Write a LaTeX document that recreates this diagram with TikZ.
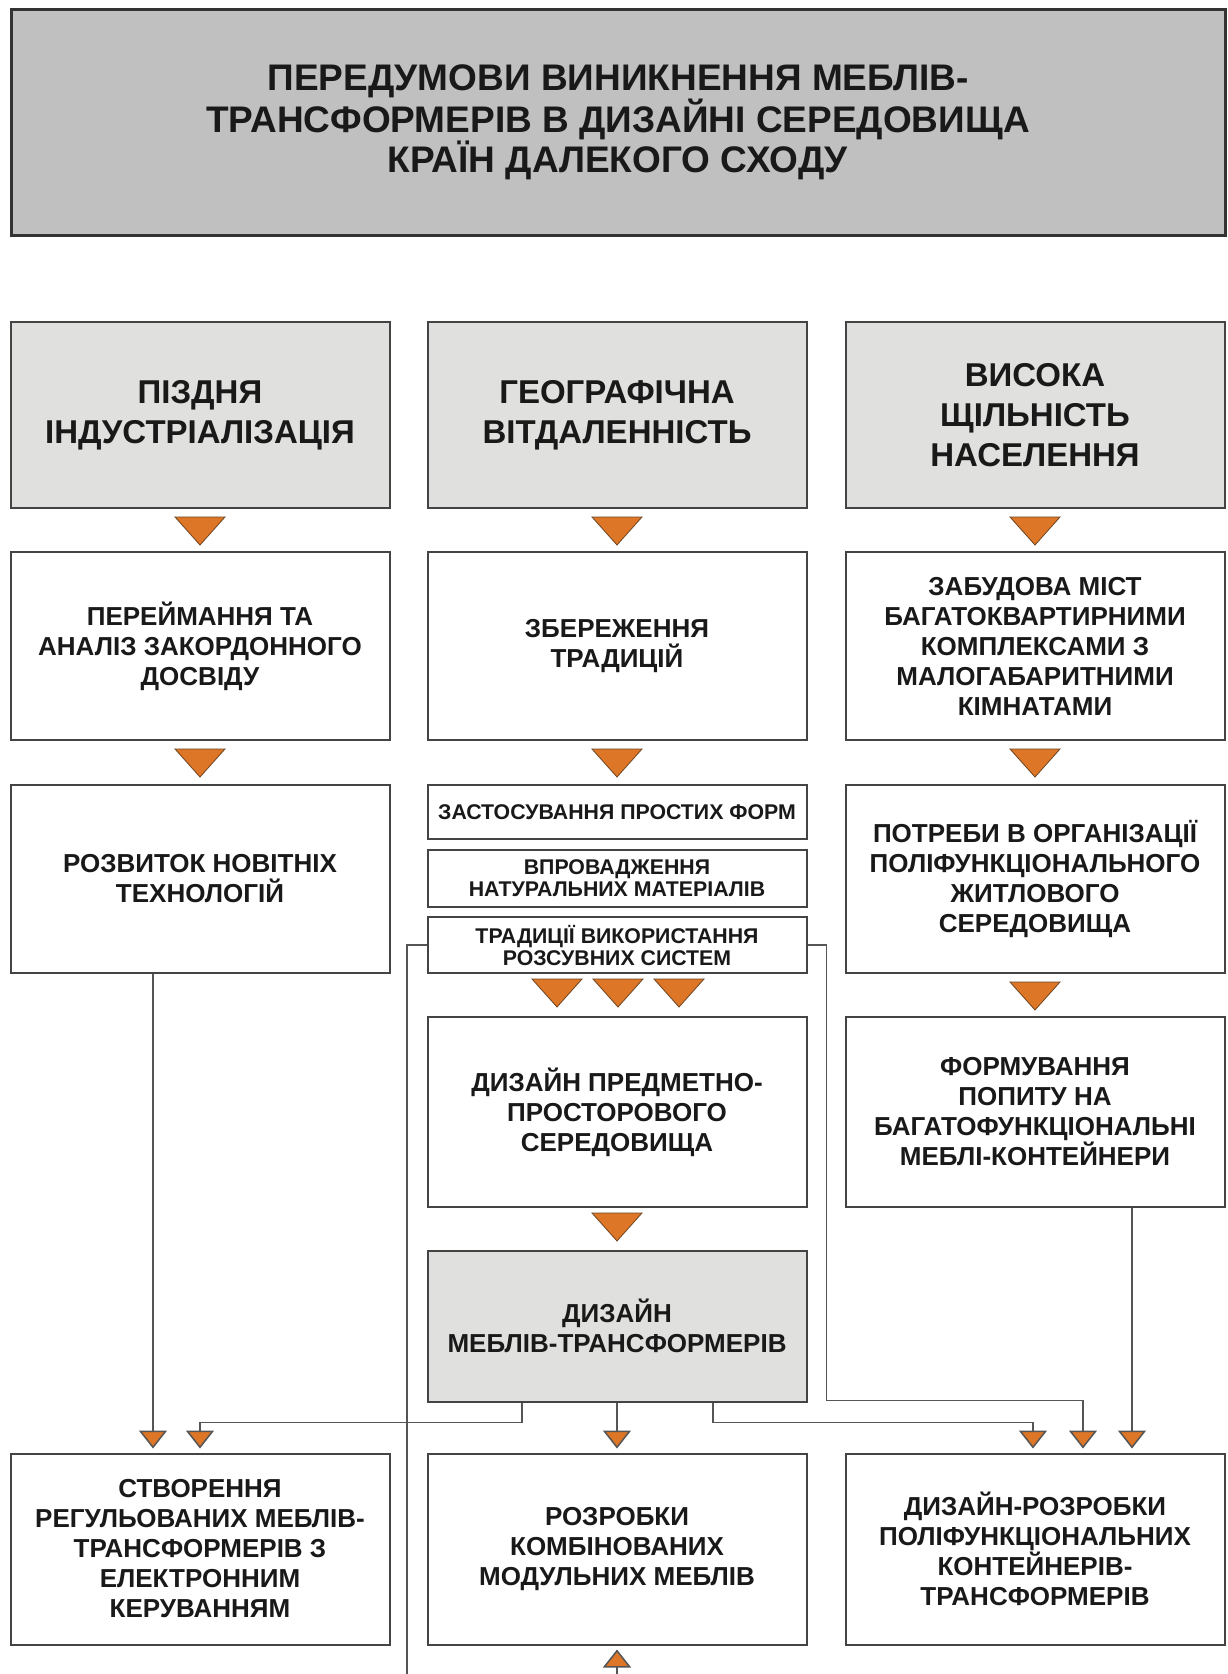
\documentclass[tikz,border=0pt]{standalone}
\usepackage{fontspec}
\setmainfont{Liberation Sans}
\usetikzlibrary{arrows.meta,calc,positioning}
\definecolor{boxline}{RGB}{68,68,68}
\definecolor{linkgray}{RGB}{85,85,85}
\definecolor{headfill}{RGB}{224,224,222}
\definecolor{titlefill}{RGB}{192,192,192}
\definecolor{triorange}{RGB}{221,118,38}
\definecolor{triedge}{RGB}{110,70,35}
\definecolor{txt}{RGB}{25,25,25}

\begin{document}
\begin{tikzpicture}[x=1pt,y=-1pt,
  box/.style={draw=boxline,line width=2pt,fill=white,text=txt,align=center,
    inner sep=0pt,minimum width=379pt,minimum height=188pt,
    font=\bfseries\fontsize{26}{30}\selectfont},
  headbox/.style={box,fill=headfill,minimum height=186pt,
    font=\bfseries\fontsize{33}{40}\selectfont},
  smallbox/.style={box,minimum height=55pt,font=\bfseries\fontsize{21.3}{22}\selectfont},
  wire/.style={draw=linkgray,line width=1.5pt},
  link/.style={wire,shorten >=4pt,-{Triangle[width=28pt,length=18pt,fill=triorange]}},
  tri/.pic={\filldraw[fill=triorange,draw=triedge,line width=0.8pt]
    (-25,0) -- (25,0) -- (0,28) -- cycle;}]
  \fill[white] (0,0) rectangle (1227,1674);
  \useasboundingbox (0,0) rectangle (1227,1674);

  \node[box,fill=titlefill,draw=black!80,line width=3pt,minimum width=1214pt,
        minimum height=226pt,font=\bfseries\fontsize{37}{37.5}\selectfont] (title) at (618,122)
    {ПЕРЕДУМОВИ ВИНИКНЕННЯ МЕБЛІВ-\\ТРАНСФОРМЕРІВ В ДИЗАЙНІ СЕРЕДОВИЩА\\КРАЇН ДАЛЕКОГО СХОДУ};

  \node[headbox] (pre1) at (200,415) {ПІЗДНЯ\\ІНДУСТРІАЛІЗАЦІЯ};
  \node[headbox] (pre2) at (617,415) {ГЕОГРАФІЧНА\\ВІТДАЛЕННІСТЬ};
  \node[headbox] (pre3) at (1035,415) {ВИСОКА\\ЩІЛЬНІСТЬ\\НАСЕЛЕННЯ};

  \node[box] (lead1) at (200,646) {ПЕРЕЙМАННЯ ТА\\АНАЛІЗ ЗАКОРДОННОГО\\ДОСВІДУ};
  \node[box] (lead2) at (617,646) {ЗБЕРЕЖЕННЯ\\ТРАДИЦІЙ};
  \node[box] (lead3) at (1035,646) {ЗАБУДОВА МІСТ\\БАГАТОКВАРТИРНИМИ\\КОМПЛЕКСАМИ З\\МАЛОГАБАРИТНИМИ\\КІМНАТАМИ};

  \node[box] (tech) at (200,879) {РОЗВИТОК НОВІТНІХ\\ТЕХНОЛОГІЙ};
  \node[smallbox,minimum height=54pt] (simple) at (617,812) {ЗАСТОСУВАННЯ ПРОСТИХ ФОРМ};
  \node[smallbox,minimum height=57pt] (natural) at (617,878) {ВПРОВАДЖЕННЯ\\НАТУРАЛЬНИХ МАТЕРІАЛІВ};
  \node[smallbox,minimum height=56pt] (trad) at (617,945) {ТРАДИЦІЇ ВИКОРИСТАННЯ\\РОЗСУВНИХ СИСТЕМ};
  \node[box] (need) at (1035,879) {ПОТРЕБИ В ОРГАНІЗАЦІЇ\\ПОЛІФУНКЦІОНАЛЬНОГО\\ЖИТЛОВОГО\\СЕРЕДОВИЩА};

  \node[box,minimum height=190pt] (space) at (617,1112) {ДИЗАЙН ПРЕДМЕТНО-\\ПРОСТОРОВОГО\\СЕРЕДОВИЩА};
  \node[box,minimum height=190pt] (demand) at (1035,1112) {ФОРМУВАННЯ\\ПОПИТУ НА\\БАГАТОФУНКЦІОНАЛЬНІ\\МЕБЛІ-КОНТЕЙНЕРИ};
  \node[box,fill=headfill,minimum height=151pt] (mebli) at (617,1326) {ДИЗАЙН\\МЕБЛІВ-ТРАНСФОРМЕРІВ};

  \node[box,minimum height=191pt] (res1) at (200,1549) {СТВОРЕННЯ\\РЕГУЛЬОВАНИХ МЕБЛІВ-\\ТРАНСФОРМЕРІВ З\\ЕЛЕКТРОННИМ\\КЕРУВАННЯМ};
  \node[box,minimum height=191pt] (res2) at (617,1549) {РОЗРОБКИ\\КОМБІНОВАНИХ\\МОДУЛЬНИХ МЕБЛІВ};
  \node[box,minimum height=191pt] (res3) at (1035,1549) {ДИЗАЙН-РОЗРОБКИ\\ПОЛІФУНКЦІОНАЛЬНИХ\\КОНТЕЙНЕРІВ-\\ТРАНСФОРМЕРІВ};

  \foreach \a in {pre1,pre2,pre3,lead1,lead2,lead3,need}
    \pic at ($(\a.south)+(0,8)$) {tri};
  \foreach \dx in {-60,1,62}
    \pic at ($(trad.south)+(\dx,5)$) {tri};
  \pic at ($(space.south)+(0,5)$) {tri};

  \coordinate (botL) at (407,1674);
  \coordinate (botM) at (617,1674);

  \draw[wire] (trad.west) -| (botL);
  \draw[link] ($(tech.south)+(-47,0)$) -- ($(res1.north)+(-47,0)$);
  \draw[link] ($(mebli.south)+(-95,0)$) -- ++(0,20) -| (res1.north);
  \draw[link] (mebli.south) -- (res2.north);
  \draw[link] ($(mebli.south)+(96,0)$) -- ++(0,20) -| ($(res3.north)+(-2,0)$);
  \draw[link] (trad.east) -- ++(19,0) |- ($(res3.north)+(48,-52)$) -- ($(res3.north)+(48,0)$);
  \draw[link] ($(demand.south)+(97,0)$) -- ($(res3.north)+(97,0)$);
  \draw[link] (botM) -- (res2.south);
\end{tikzpicture}
\end{document}
